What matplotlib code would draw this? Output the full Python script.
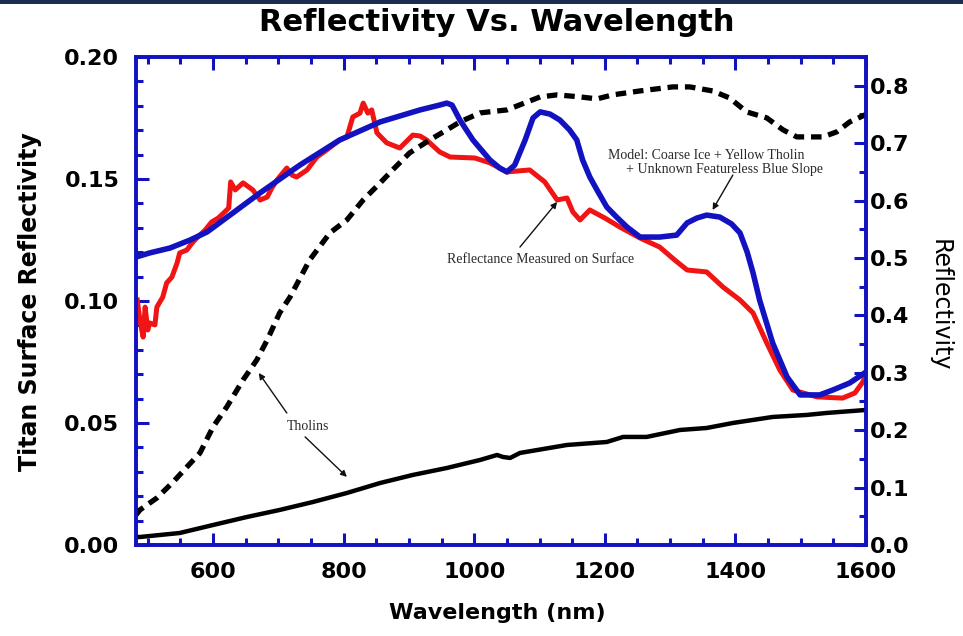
import matplotlib
matplotlib.use("Agg")
import matplotlib.pyplot as plt
from matplotlib.patches import Rectangle
from matplotlib.ticker import MultipleLocator, FormatStrFormatter

# Reflectancia medida en superficie (eje izquierdo)
medida_nm = [484, 488, 493, 496, 500, 503, 511, 514, 523, 529, 537, 545, 549, 560,
             568, 575, 588, 598, 608, 618, 624, 627, 634, 646, 661, 672, 683, 690,
             698, 713, 721, 728, 744, 759, 774, 794, 805, 814, 825, 830, 837, 843,
             851, 866, 886, 906, 917, 927, 947, 963, 1001, 1024, 1050, 1085, 1108,
             1127, 1142, 1151, 1162, 1177, 1200, 1223, 1254, 1284, 1307, 1326, 1356,
             1381, 1407, 1427, 1448, 1468, 1488, 1525, 1564, 1583, 1595, 1600]
medida_ref = [0.1004, 0.0922, 0.0852, 0.0975, 0.0881, 0.0910, 0.0902, 0.0975, 0.1016,
              0.1074, 0.1098, 0.1156, 0.1197, 0.1209, 0.1238, 0.1258, 0.1291, 0.1324,
              0.1340, 0.1365, 0.1381, 0.1488, 0.1455, 0.1484, 0.1455, 0.1414, 0.1426,
              0.1463, 0.1496, 0.1545, 0.1516, 0.1508, 0.1537, 0.1590, 0.1619, 0.1660,
              0.1672, 0.1754, 0.1770, 0.1811, 0.1770, 0.1783, 0.1689, 0.1648, 0.1627,
              0.1680, 0.1676, 0.1660, 0.1611, 0.1590, 0.1586, 0.1566, 0.1529, 0.1537,
              0.1488, 0.1414, 0.1422, 0.1365, 0.1332, 0.1373, 0.1340, 0.1303, 0.1258,
              0.1221, 0.1168, 0.1127, 0.1119, 0.1057, 0.1004, 0.0951, 0.0828, 0.0717,
              0.0635, 0.0607, 0.0602, 0.0623, 0.0668, 0.0697]

# Modelo: hielo + tolina amarilla + pendiente azul (eje izquierdo)
modelo_nm = [482, 503, 534, 565, 591, 626, 672, 733, 794, 856, 917, 947, 958, 966,
             978, 998, 1024, 1039, 1050, 1062, 1078, 1090, 1101, 1116, 1131, 1146,
             1157, 1166, 1177, 1188, 1203, 1218, 1234, 1254, 1284, 1310, 1326, 1341,
             1356, 1376, 1394, 1407, 1418, 1427, 1437, 1457, 1479, 1499, 1529, 1549,
             1575, 1600]
modelo_ref = [0.1180, 0.1197, 0.1217, 0.1250, 0.1283, 0.1352, 0.1443, 0.1557, 0.1660,
              0.1734, 0.1783, 0.1803, 0.1811, 0.1803, 0.1742, 0.1660, 0.1578, 0.1545,
              0.1529, 0.1557, 0.1660, 0.1750, 0.1775, 0.1766, 0.1742, 0.1701, 0.1660,
              0.1578, 0.1508, 0.1455, 0.1385, 0.1344, 0.1303, 0.1262, 0.1262, 0.1270,
              0.1320, 0.1340, 0.1352, 0.1344, 0.1316, 0.1279, 0.1200, 0.1115, 0.1004,
              0.0828, 0.0689, 0.0615, 0.0615, 0.0635, 0.0664, 0.0709]

# Tolinas (eje derecho)
tolina1_nm = [482, 488, 514, 539, 560, 580, 600, 621, 646, 667, 683, 702, 718, 748,
              779, 805, 830, 856, 875, 901, 932, 958, 978, 1009, 1050, 1101, 1127,
              1162, 1188, 1212, 1254, 1304, 1330, 1365, 1391, 1417, 1448, 1473, 1494,
              1534, 1555, 1575, 1600]
tolina1_ref = [0.0523, 0.0610, 0.0819, 0.1098, 0.1359, 0.1603, 0.2056, 0.2404, 0.2875,
               0.3223, 0.3571, 0.4042, 0.4321, 0.4965, 0.5436, 0.5662, 0.6010, 0.6307,
               0.6533, 0.6829, 0.7056, 0.7230, 0.7369, 0.7526, 0.7578, 0.7805, 0.7840,
               0.7805, 0.7770, 0.7840, 0.7909, 0.7979, 0.7979, 0.7909, 0.7787, 0.7544,
               0.7439, 0.7230, 0.7108, 0.7108, 0.7195, 0.7369, 0.7500]

tolina2_nm = [482, 488, 549, 600, 652, 702, 753, 805, 856, 906, 958, 1009, 1035, 1044,
              1055, 1070, 1142, 1203, 1228, 1264, 1315, 1356, 1396, 1457, 1509, 1540,
              1600]
tolina2_ref = [0.0139, 0.0139, 0.0209, 0.0348, 0.0488, 0.0610, 0.0749, 0.0906, 0.1080,
               0.1220, 0.1341, 0.1481, 0.1568, 0.1533, 0.1516, 0.1603, 0.1742, 0.1794,
               0.1882, 0.1882, 0.2003, 0.2038, 0.2125, 0.2230, 0.2265, 0.2300, 0.2352]

azul = "#1212c0"
rojo = "#f01414"

fig = plt.figure(figsize=(9.63, 6.36), dpi=100)
fig.add_artist(Rectangle((0, 1 - 4 / 636), 1, 4 / 636, transform=fig.transFigure,
                         color="#1c2d52", lw=0))

ax = fig.add_axes([0.1412, 0.1431, 0.7581, 0.7673])
ax.plot(medida_nm, medida_ref, color=rojo, lw=3.6, solid_joinstyle="round")
ax.plot(modelo_nm, modelo_ref, color=azul, lw=4.0, solid_joinstyle="round")
ax.set_xlim(482, 1600)
ax.set_ylim(0, 0.20)

ax2 = ax.twinx()
ax2.plot(tolina1_nm, tolina1_ref, color="black", lw=3.8, dashes=(2.0, 1.3))
ax2.plot(tolina2_nm, tolina2_ref, color="black", lw=3.2, solid_joinstyle="round")
ax2.set_ylim(0, 0.85)

# Ejes y marcas en azul
for a in (ax, ax2):
    for s in a.spines.values():
        s.set_color(azul)
        s.set_linewidth(2.6)

ax.xaxis.set_major_locator(MultipleLocator(200))
ax.xaxis.set_minor_locator(MultipleLocator(50))
ax.yaxis.set_major_locator(MultipleLocator(0.05))
ax.yaxis.set_minor_locator(MultipleLocator(0.01))
ax.yaxis.set_major_formatter(FormatStrFormatter("%.2f"))
ax2.yaxis.set_major_locator(MultipleLocator(0.1))
ax2.yaxis.set_minor_locator(MultipleLocator(0.05))
ax2.yaxis.set_major_formatter(FormatStrFormatter("%.1f"))

ax.tick_params(axis="both", which="both", direction="in", color=azul, width=2.2,
               top=True, right=False)
ax.tick_params(axis="both", which="major", length=9)
ax.tick_params(axis="both", which="minor", length=5)
ax.tick_params(axis="x", which="major", pad=12)
ax.tick_params(axis="y", which="major", pad=12)
ax2.tick_params(axis="y", which="both", direction="in", color=azul, width=2.2, pad=3)
ax2.tick_params(axis="y", which="major", length=9)
ax2.tick_params(axis="y", which="minor", length=5)

for lab in ax.get_xticklabels() + ax.get_yticklabels() + ax2.get_yticklabels():
    lab.set_fontsize(16)
    lab.set_fontweight("bold")

# Titulo y etiquetas
fig.text(0.516, 0.965, "Reflectivity Vs. Wavelength", ha="center", va="center",
         fontsize=22, fontweight="bold")
fig.text(0.516, 0.036, "Wavelength (nm)", ha="center", va="center",
         fontsize=16, fontweight="bold")
fig.text(0.031, 0.525, "Titan Surface Reflectivity", ha="center", va="center",
         rotation=90, fontsize=17, fontweight="bold")
fig.text(0.976, 0.52, "Reflectivity", ha="center", va="center",
         rotation=270, fontsize=17)

# Anotaciones
nota = dict(fontsize=10, family="Liberation Serif", color="#2a2a2a")
flecha = dict(arrowstyle="-|>", color="#111111", lw=1.0, mutation_scale=9,
              shrinkA=0, shrinkB=0)
ax.text(1205, 0.1598, "Model: Coarse Ice + Yellow Tholin", ha="left", va="center", **nota)
ax.text(1232, 0.1537, "+ Unknown Featureless Blue Slope", ha="left", va="center", **nota)
ax.annotate("", xy=(1365, 0.1373), xytext=(1396, 0.1516), arrowprops=flecha)
ax.text(958, 0.1168, "Reflectance Measured on Surface", ha="left", va="center", **nota)
ax.annotate("", xy=(1127, 0.1406), xytext=(1070, 0.1221), arrowprops=flecha)
ax.text(713, 0.0484, "Tholins", ha="left", va="center", **nota)
ax.annotate("", xy=(670, 0.0705), xytext=(713, 0.0541), arrowprops=flecha)
ax.annotate("", xy=(805, 0.0279), xytext=(741, 0.0443), arrowprops=flecha)

fig.savefig("out.png", dpi=100)
